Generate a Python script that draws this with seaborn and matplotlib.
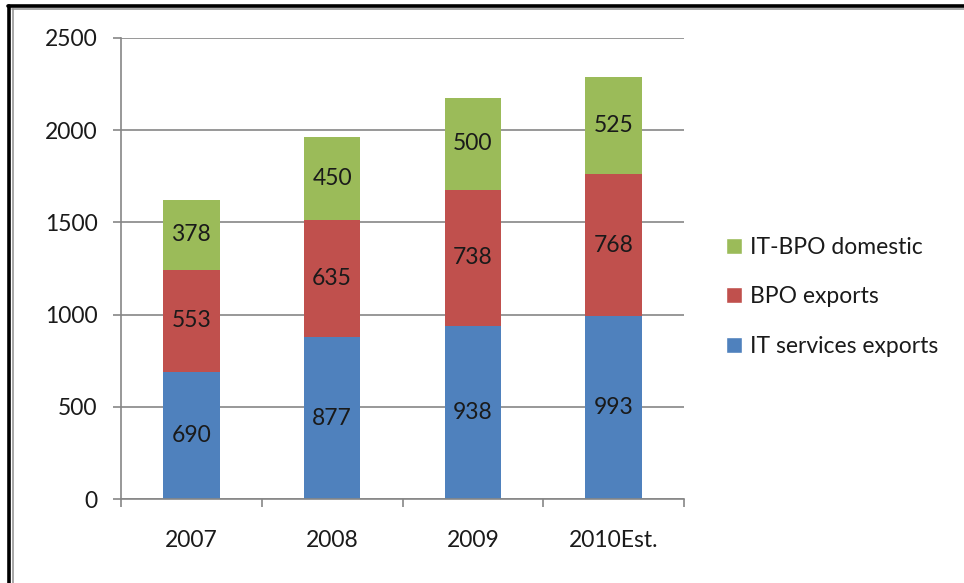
import matplotlib
matplotlib.use("Agg")
import matplotlib.pyplot as plt
from matplotlib.lines import Line2D
from matplotlib.patches import Patch
import numpy as np
import pandas as pd
import seaborn as sns

# --- Data ---
YEARS = ['2007', '2008', '2009', '2010Est.']
IT_SERVICES = [690, 877, 938, 993]
BPO_EXPORTS = [553, 635, 738, 768]
DOMESTIC = [378, 450, 500, 525]
SERIES_NAMES = ['IT services exports', 'BPO exports', 'IT-BPO domestic']
COLORS = ['#4F81BD', '#C0504D', '#9BBB59']

GRID = '#868686'
TEXT = '#1a1a1a'
FS = 16.5

sns.set_theme(style='white')
plt.rcParams['font.family'] = ['Lato', 'DejaVu Sans']

fig = plt.figure(figsize=(9.64, 5.83), dpi=100)
ax = fig.add_axes([121 / 964, 84 / 583, 563 / 964, 461 / 583])

layers = [IT_SERVICES, BPO_EXPORTS, DOMESTIC]
cum = np.cumsum(np.array(layers), axis=0)
df = pd.DataFrame({'year': YEARS})

# draw tallest stack first so lower segments sit on top
for i in reversed(range(3)):
    df['h'] = cum[i]
    sns.barplot(data=df, x='year', y='h', order=YEARS, color=COLORS[i],
                saturation=1, width=0.4, edgecolor='none', ax=ax, zorder=2)

# segment labels
for i in range(3):
    bottoms = cum[i] - np.array(layers[i])
    for j, v in enumerate(layers[i]):
        ax.text(j, bottoms[j] + v / 2, str(v), ha='center', va='center',
                fontsize=FS, color=TEXT, zorder=3)

ax.set_xlim(-0.5, 3.5)
ax.set_ylim(0, 2500)
ax.set_yticks(range(0, 2501, 500))
ax.set_xlabel('')
ax.set_ylabel('')

ax.yaxis.grid(True, color=GRID, linewidth=1.2, zorder=0)
ax.set_axisbelow(True)
for side in ['top', 'right']:
    ax.spines[side].set_visible(False)
for side in ['left', 'bottom']:
    ax.spines[side].set_color(GRID)
    ax.spines[side].set_linewidth(1.2)

ax.set_xticks(np.arange(-0.5, 4, 1), minor=True)
ax.tick_params(axis='x', which='major', length=0, pad=22, labelsize=FS,
               labelcolor=TEXT)
ax.tick_params(axis='x', which='minor', length=6, width=1.2, color=GRID,
               direction='out', bottom=True)
ax.tick_params(axis='y', length=6, width=1.2, color=GRID, direction='out',
               left=True, pad=11, labelsize=FS, labelcolor=TEXT)

handles = [Patch(facecolor=COLORS[i], label=SERIES_NAMES[i]) for i in reversed(range(3))]
fig.legend(handles=handles, loc='center left', bbox_to_anchor=(705 / 964, 1 - 297 / 583),
           frameon=False, fontsize=FS, handlelength=0.7, handleheight=0.7,
           handletextpad=0.35, labelspacing=1.25, labelcolor=TEXT)

# outer frame: thick black line plus thin grey inner line, top and left
W, H = 964, 583
fig.add_artist(Line2D([8 / W, 1], [1 - 6 / H, 1 - 6 / H], color='black', linewidth=2.6))
fig.add_artist(Line2D([12 / W, 1], [1 - 9 / H, 1 - 9 / H], color='#999999', linewidth=1.2))
fig.add_artist(Line2D([9 / W, 9 / W], [0, 1 - 6 / H], color='black', linewidth=2.6))
fig.add_artist(Line2D([13 / W, 13 / W], [0, 1 - 9 / H], color='#999999', linewidth=1.2))

fig.savefig('out.png', dpi=100)
